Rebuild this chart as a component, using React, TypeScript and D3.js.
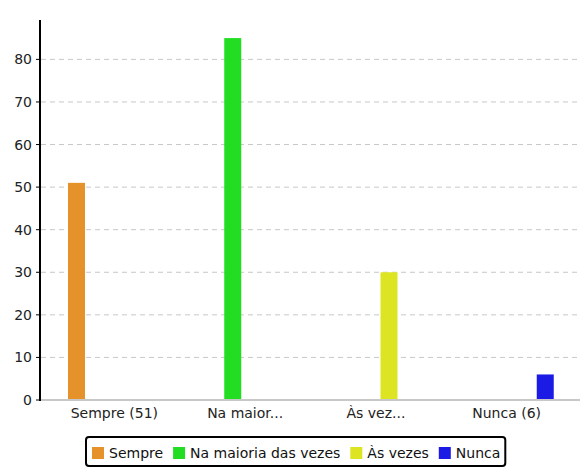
import { useEffect, useRef } from "react";
import * as d3 from "d3";

const categories = ["Sempre", "Na maioria das vezes", "Às vezes", "Nunca"];
const axisLabels = ["Sempre (51)", "Na maior...", "Às vez...", "Nunca (6)"];
const counts = [51, 85, 30, 6];
const colors = ["#e6922a", "#22dd22", "#dde522", "#1b1be5"];
const yTicks = [0, 10, 20, 30, 40, 50, 60, 70, 80];

const FONT = "DejaVu Sans";

export default function App() {
  const svgRef = useRef<SVGSVGElement | null>(null);

  useEffect(() => {
    const svgElement = svgRef.current;
    if (!svgElement) return;

    const width = 580;
    const height = 472;
    const left = 40;
    const baseY = 400;

    const svg = d3.select(svgElement);
    svg.selectAll("*").remove();
    svg.attr("viewBox", `0 0 ${width} ${height}`);

    const y = d3.scaleLinear().domain([0, 85 * 1.05]).range([baseY, 20]);
    // group bands run a bit past the right edge, as in the source
    const x0 = d3.scaleBand().domain(categories).range([41, 598]).paddingInner(0);
    const x1 = d3.scaleBand().domain(categories).range([27, 95]);
    const xLabel = d3.scaleBand().domain(categories).range([49, 572]);

    // grid
    svg
      .append("g")
      .selectAll("line")
      .data(yTicks.filter((t) => t > 0))
      .join("line")
      .attr("x1", left + 1)
      .attr("x2", width)
      .attr("y1", (t) => y(t))
      .attr("y2", (t) => y(t))
      .attr("stroke", "#c8c8c8")
      .attr("stroke-width", 1)
      .attr("stroke-dasharray", "5,4");

    // bars: each series only has a value in its own category
    const groups = svg
      .append("g")
      .selectAll("g")
      .data(categories)
      .join("g")
      .attr("transform", (c) => `translate(${x0(c)}, 0)`);

    groups
      .selectAll("rect")
      .data((c, i) =>
        categories.map((s, j) => ({ s, j, value: i === j ? counts[i] : 0 }))
      )
      .join("rect")
      .attr("x", (d) => x1(d.s) ?? 0)
      .attr("y", (d) => y(d.value))
      .attr("width", x1.bandwidth())
      .attr("height", (d) => baseY - y(d.value))
      .attr("fill", (d) => colors[d.j]);

    // x axis
    svg
      .append("line")
      .attr("x1", left)
      .attr("x2", width)
      .attr("y1", baseY)
      .attr("y2", baseY)
      .attr("stroke", "#c8c8c8")
      .attr("stroke-width", 2);

    svg
      .append("g")
      .selectAll("text")
      .data(categories)
      .join("text")
      .attr("x", (c) => (xLabel(c) ?? 0) + xLabel.bandwidth() / 2)
      .attr("y", 418)
      .attr("text-anchor", "middle")
      .attr("font-family", FONT)
      .attr("font-size", 14)
      .attr("fill", "#222")
      .text((c, i) => axisLabels[i]);

    // y axis
    svg
      .append("line")
      .attr("x1", left)
      .attr("x2", left)
      .attr("y1", y(85 * 1.05))
      .attr("y2", baseY + 1)
      .attr("stroke", "#000")
      .attr("stroke-width", 2);

    const yAxis = svg.append("g");
    yAxis
      .selectAll("line")
      .data(yTicks)
      .join("line")
      .attr("x1", left - 4)
      .attr("x2", left)
      .attr("y1", (t) => y(t))
      .attr("y2", (t) => y(t))
      .attr("stroke", "#000")
      .attr("stroke-width", 1);
    yAxis
      .selectAll("text")
      .data(yTicks)
      .join("text")
      .attr("x", 32)
      .attr("y", (t) => y(t))
      .attr("dy", "0.36em")
      .attr("text-anchor", "end")
      .attr("font-family", FONT)
      .attr("font-size", 14)
      .attr("fill", "#222")
      .text((t) => String(t));

    // legend
    const legend = svg.append("g");
    const box = legend
      .append("rect")
      .attr("y", 437)
      .attr("height", 29)
      .attr("rx", 3)
      .attr("fill", "#fff")
      .attr("stroke", "#000")
      .attr("stroke-width", 2);

    let cursor = 92;
    categories.forEach((c, i) => {
      legend
        .append("rect")
        .attr("x", cursor)
        .attr("y", 447)
        .attr("width", 12)
        .attr("height", 12)
        .attr("fill", colors[i]);
      const label = legend
        .append("text")
        .attr("x", cursor + 17)
        .attr("y", 457.5)
        .attr("font-family", FONT)
        .attr("font-size", 14)
        .attr("fill", "#111")
        .text(c);
      const w = (label.node() as SVGTextElement).getComputedTextLength();
      cursor += 17 + w + 10;
    });
    box.attr("x", 86).attr("width", cursor - 10 + 5 - 86);
  }, []);

  return (
    <svg
      ref={svgRef}
      width={580}
      height={472}
      style={{ position: "absolute", left: 0, top: 0, display: "block" }}
    />
  );
}
